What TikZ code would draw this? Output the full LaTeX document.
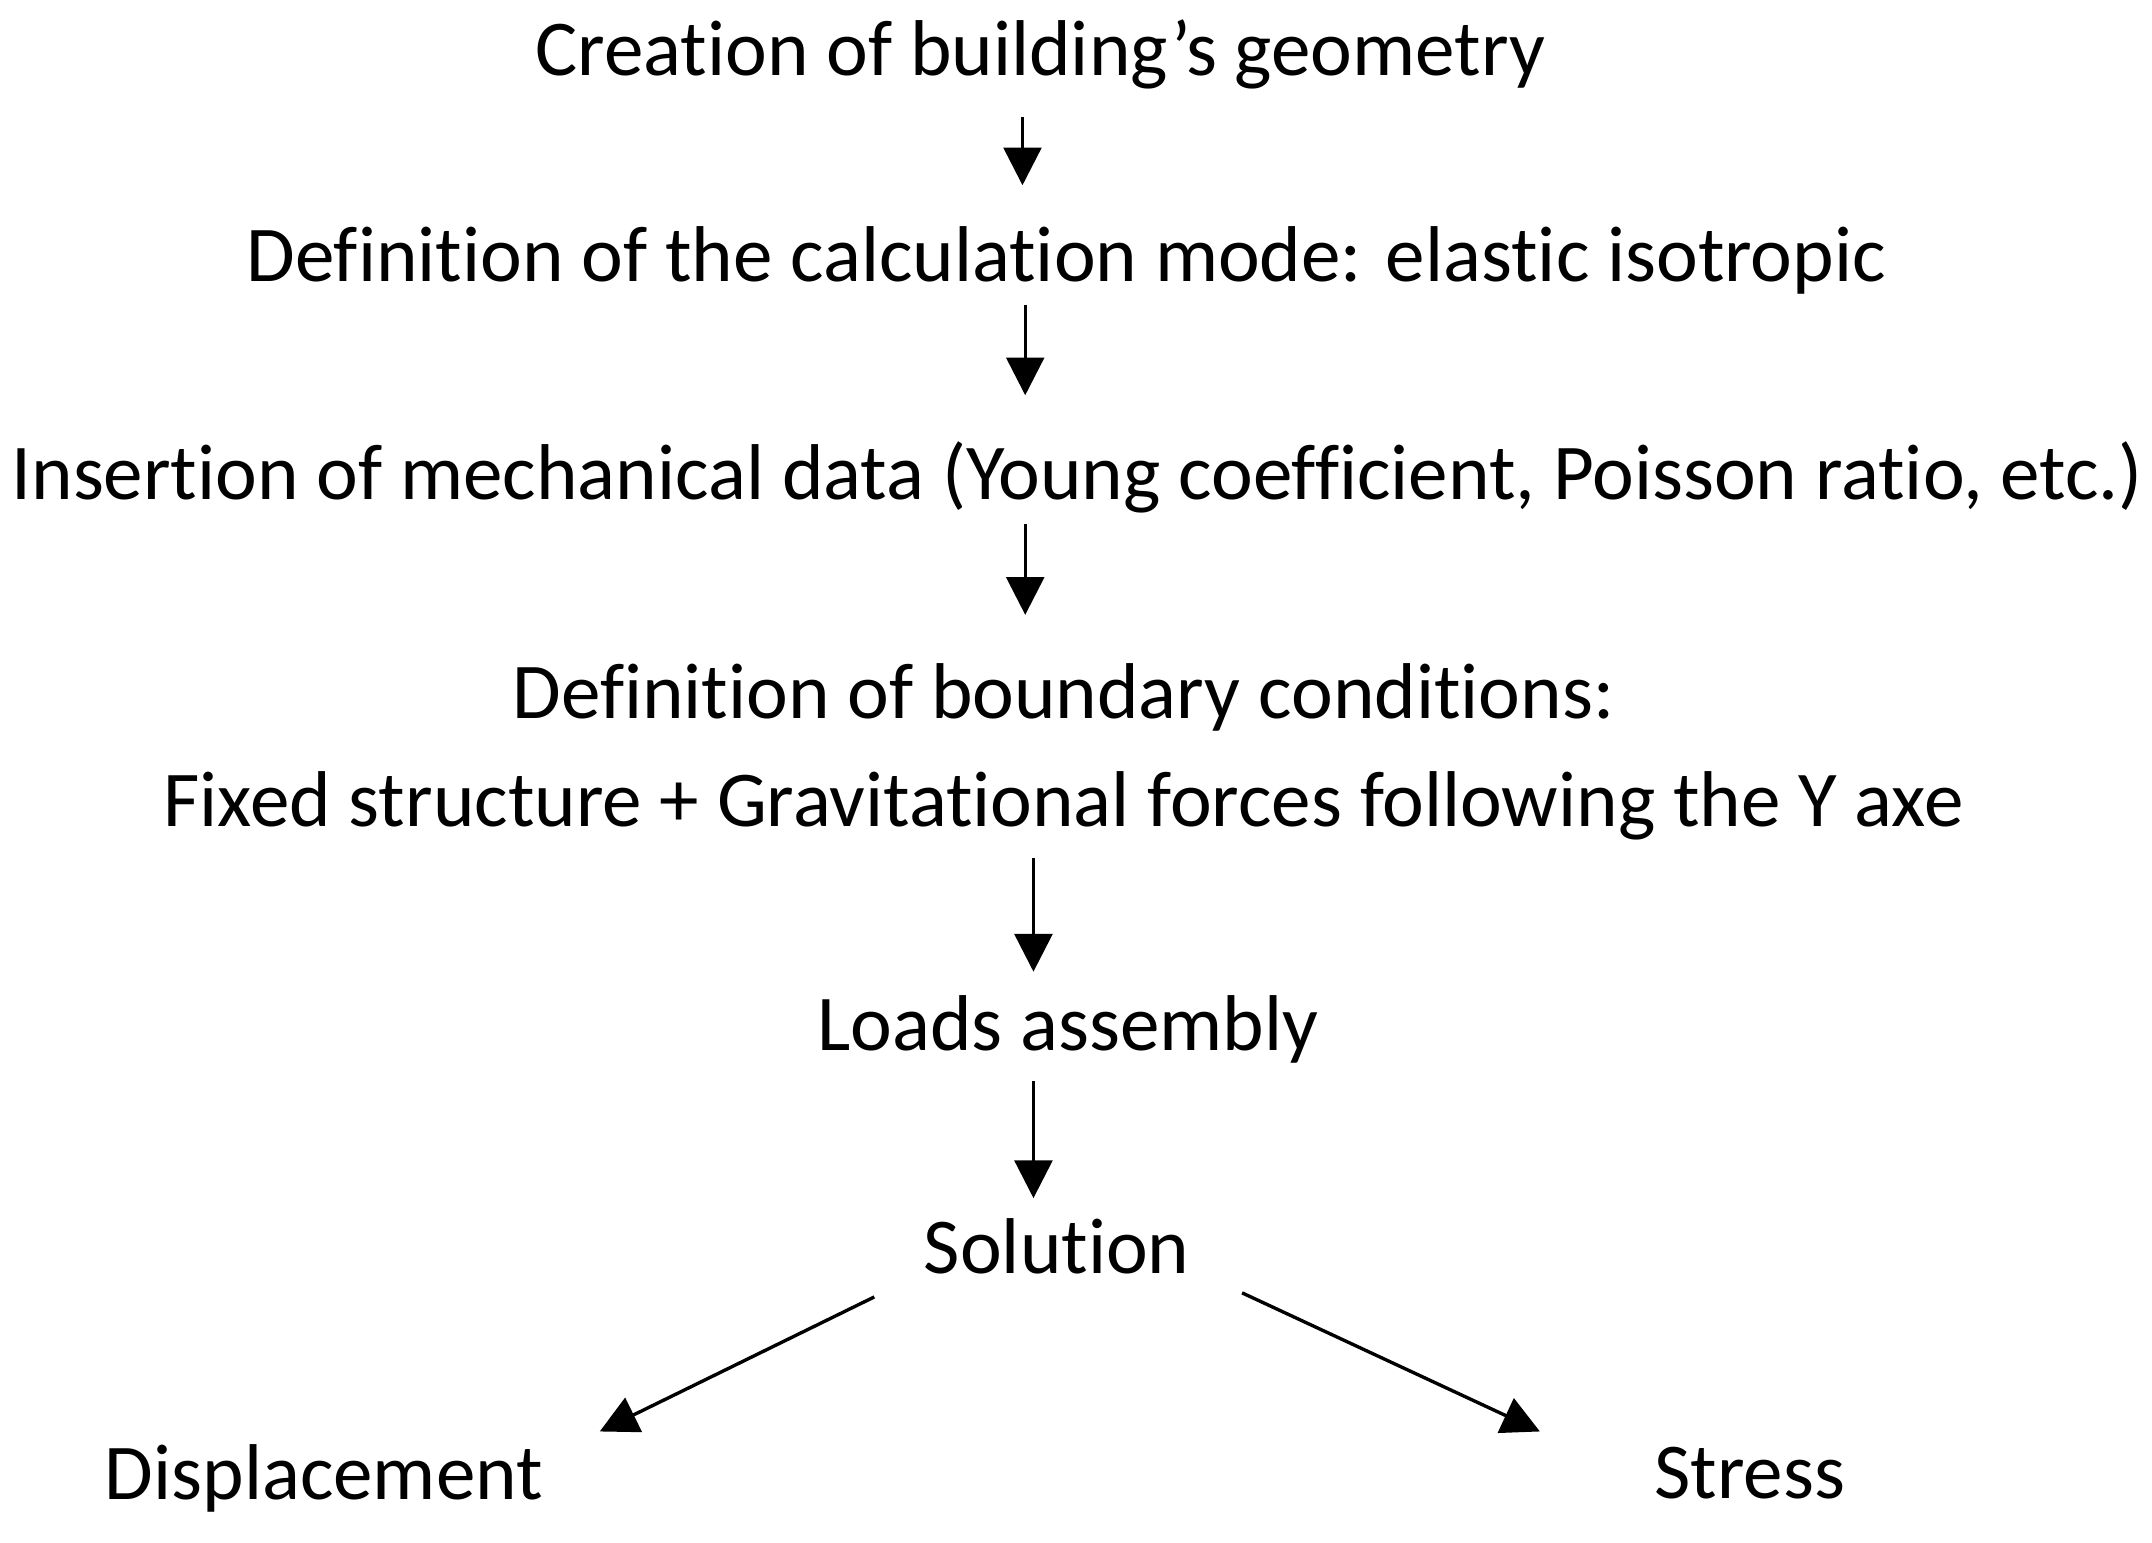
\documentclass[tikz,border=0pt]{standalone}
\usepackage{fontspec}
\setmainfont{Carlito}[Ligatures={NoCommon}]
\usetikzlibrary{arrows.meta}
\begin{document}
\begin{tikzpicture}[x=0.02cm,y=-0.02cm,
  lbl/.style={font=\fontsize{32.8}{38}\selectfont,inner sep=0pt,anchor=center},
  arr/.style={line width=1.4pt,-{Triangle[length=0.55cm,width=0.55cm]}}]
\useasboundingbox (0,0) rectangle (1568,1124);
\node[lbl] (a) at (758,40) {Creation of building’s geometry};
\node[lbl] (b) at (777,190) {Definition of the calculation mode: elastic isotropic};
\node[lbl] (c) at (785,348) {Insertion of mechanical data (Young coefficient, Poisson ratio, etc.)};
\node[lbl] (d1) at (775,508) {Definition of boundary conditions:};
\node[lbl] (d2) at (775,587) {Fixed structure + Gravitational forces following the Y axe};
\node[lbl] (e) at (778,750) {Loads assembly};
\node[lbl] (f) at (770,908) {Solution};
\node[lbl] (g) at (236,1077) {Displacement};
\node[lbl] (h) at (1275,1073) {Stress};
\coordinate (a1) at (745,85); \coordinate (a2) at (745,135);
\coordinate (b1) at (747,222); \coordinate (b2) at (747,288);
\coordinate (c1) at (747,382); \coordinate (c2) at (747,448);
\coordinate (d3) at (753,625); \coordinate (d4) at (753,708);
\coordinate (e1) at (753,788); \coordinate (e2) at (753,873);
\coordinate (f1) at (637,945); \coordinate (f2) at (437,1043);
\coordinate (f3) at (905,942); \coordinate (f4) at (1122,1043);
\draw[arr] (a1) -- (a2);
\draw[arr] (b1) -- (b2);
\draw[arr] (c1) -- (c2);
\draw[arr] (d3) -- (d4);
\draw[arr] (e1) -- (e2);
\draw[arr] (f1) -- (f2);
\draw[arr] (f3) -- (f4);
\end{tikzpicture}
\end{document}
